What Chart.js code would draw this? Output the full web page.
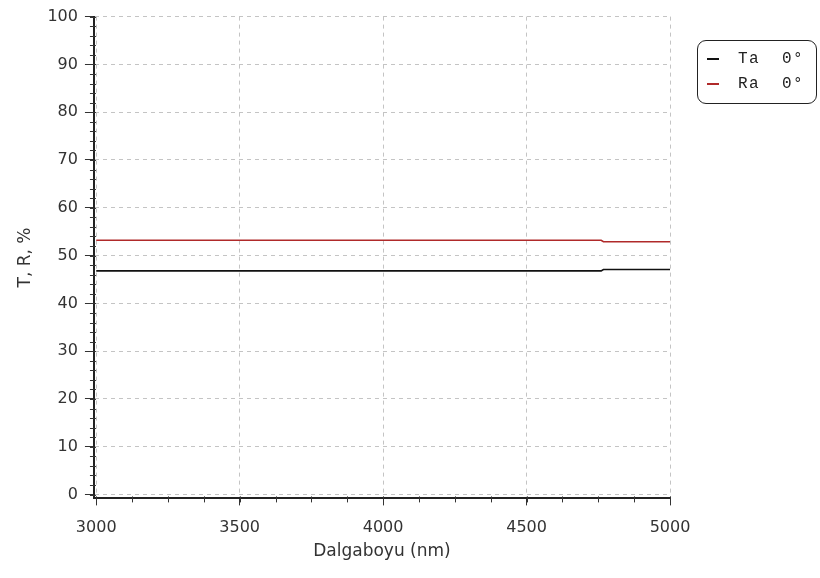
<!DOCTYPE html>
<html lang="tr">
<head>
  <meta charset="UTF-8" />
  <title>T, R - Dalgaboyu</title>
  <script src="https://cdn.jsdelivr.net/npm/chart.js"></script>
  <style>
    * { box-sizing: border-box; }
    body { margin: 0; background: #fff; }
    .wrap { position: relative; width: 820px; height: 578px; }
    .legend {
      position: absolute;
      left: 697px;
      top: 40px;
      width: 120px;
      height: 64px;
      border: 1.5px solid #222;
      border-radius: 9px;
      padding: 5px 0 0 9px;
      font-family: 'Liberation Mono', 'Courier New', monospace;
      font-size: 16px;
      letter-spacing: 1.4px;
      color: #222;
    }
    .legend .row { height: 25px; display: flex; align-items: center; white-space: pre; }
    .legend .swatch { display: inline-block; width: 12px; height: 0; border-top: 2px solid; margin-right: 19px; }
  </style>
</head>
<body>
  <div class="wrap">
    <canvas id="chart" width="820" height="578"></canvas>
    <div class="legend" id="legend"></div>
  </div>

  <script>
    // Wavelength (nm) and series values
    const wavelengths = [3000, 4760, 4768, 5000];
    const taValues = [46.8, 46.8, 47.1, 47.1];
    const raValues = [53.2, 53.2, 52.9, 52.9];
    const seriesNames = ['Ta  0°', 'Ra  0°'];
    const seriesColors = ['#111111', '#b02a2a'];

    const xTicks = [3000, 3500, 4000, 4500, 5000];
    const yTicks = [0, 10, 20, 30, 40, 50, 60, 70, 80, 90, 100];
    const xMinorStep = 125;
    const yMinorStep = 2;

    const fam = "'DejaVu Sans', Verdana, sans-serif";
    const tickFont = { family: fam, size: 16 };
    const titleFont = { family: fam, size: 17 };

    // small minor ticks along the axes, like the original plot
    const minorTicks = {
      id: 'minorTicks',
      afterDraw(chart) {
        const { ctx, chartArea, scales } = chart;
        ctx.save();
        ctx.strokeStyle = '#333';
        ctx.lineWidth = 1;
        ctx.beginPath();
        for (let v = xTicks[0]; v <= xTicks[xTicks.length - 1]; v += xMinorStep) {
          const px = Math.round(scales.x.getPixelForValue(v)) + 0.5;
          ctx.moveTo(px, chartArea.bottom - 2);
          ctx.lineTo(px, chartArea.bottom + 4);
        }
        for (let v = yTicks[0]; v <= yTicks[yTicks.length - 1]; v += yMinorStep) {
          const py = Math.round(scales.y.getPixelForValue(v)) + 0.5;
          ctx.moveTo(chartArea.left - 4, py);
          ctx.lineTo(chartArea.left + 2, py);
        }
        ctx.stroke();
        ctx.restore();
      }
    };

    const ctx = document.getElementById('chart').getContext('2d');
    const chart = new Chart(ctx, {
      type: 'line',
      data: {
        labels: wavelengths,
        datasets: [
          { label: seriesNames[0], data: taValues, borderColor: seriesColors[0] },
          { label: seriesNames[1], data: raValues, borderColor: seriesColors[1] }
        ]
      },
      options: {
        responsive: false,
        animation: false,
        layout: { padding: { left: 11, right: 150, top: 3, bottom: 12 } },
        elements: {
          line: { borderWidth: 1.6, tension: 0 },
          point: { radius: 0 }
        },
        plugins: {
          legend: { display: false },
          tooltip: { enabled: false }
        },
        scales: {
          x: {
            type: 'linear',
            min: 2992,
            max: 5000,
            afterBuildTicks: (s) => { s.ticks = xTicks.map(v => ({ value: v })); },
            ticks: { font: tickFont, color: '#333', padding: 13, maxRotation: 0, callback: (v) => String(v) },
            grid: { color: '#c4c4c4', tickColor: '#333', tickLength: 7, tickBorderDash: [] },
            border: { color: '#222', width: 2, dash: [4, 4] },
            title: { display: true, text: 'Dalgaboyu (nm)', font: titleFont, color: '#333', padding: { top: -9 } }
          },
          y: {
            min: -0.8,
            max: 100,
            afterBuildTicks: (s) => { s.ticks = yTicks.map(v => ({ value: v })); },
            ticks: { font: tickFont, color: '#333', padding: 7, callback: (v) => String(v) },
            grid: { color: '#c4c4c4', tickColor: '#333', tickLength: 9, tickBorderDash: [] },
            border: { color: '#222', width: 2, dash: [4, 4] },
            title: { display: true, text: 'T, R, %', font: titleFont, color: '#333', padding: { bottom: 5 } }
          }
        }
      },
      plugins: [minorTicks]
    });

    // legend box on the right, built from the datasets
    const legend = document.getElementById('legend');
    chart.data.datasets.forEach(ds => {
      const row = document.createElement('div');
      row.className = 'row';
      const sw = document.createElement('span');
      sw.className = 'swatch';
      sw.style.borderColor = ds.borderColor;
      row.appendChild(sw);
      row.appendChild(document.createTextNode(ds.label));
      legend.appendChild(row);
    });
  </script>
</body>
</html>
